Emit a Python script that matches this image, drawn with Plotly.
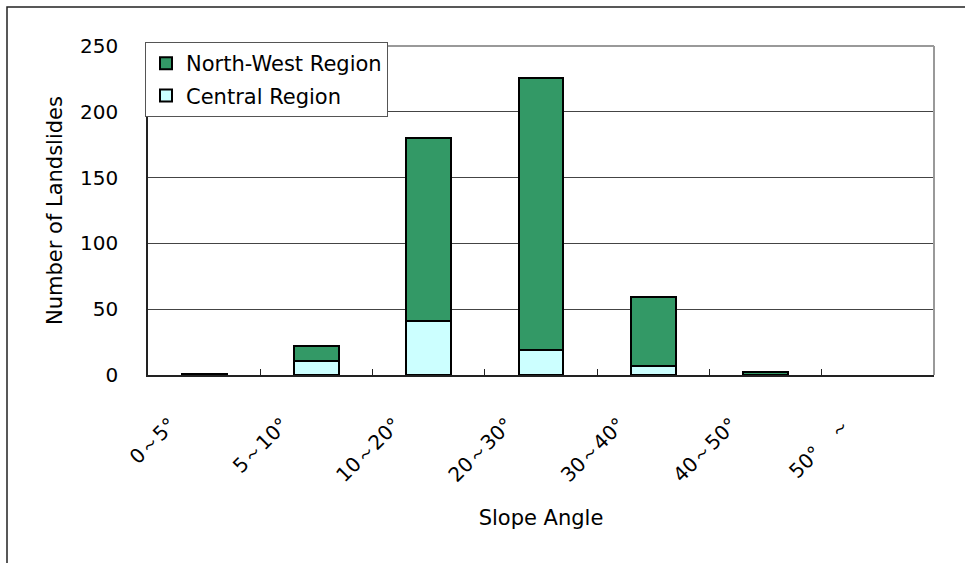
import plotly.graph_objects as go

# Landslide counts by slope-angle class (None = no landslides in that class)
categories = ["0～5°", "5～10°", "10～20°", "20～30°", "30～40°", "40～50°", "50°　～"]
central_region = [None, 11, 41, 19, 7, None, None]
north_west_region = [1, 11, 139, 207, 52, 2, None]

W, H = 965, 563
L, R, T, B = 148, 31, 46, 188
pw, ph = W - L - R, H - T - B

font_main = "DejaVu Sans"

fig = go.Figure()
fig.add_trace(go.Bar(
    x=categories, y=central_region, name="Central Region",
    legendgroup="c", legendrank=2,
    marker=dict(color="#CCFFFF", line=dict(color="black", width=2)),
))
fig.add_trace(go.Bar(
    x=categories, y=north_west_region, name="North-West Region",
    legendgroup="nw", legendrank=1,
    marker=dict(color="#339966", line=dict(color="black", width=2)),
))


def px_x(p):
    return (p - L) / pw


def px_y(p):
    return (H - B - p) / ph


# outer frame around the chart
fig.add_shape(type="rect", xref="paper", yref="paper",
              x0=px_x(7), x1=px_x(975), y0=px_y(575), y1=px_y(7),
              line=dict(color="#222", width=1.5), layer="below")
# top and right border of plot area
fig.add_shape(type="line", xref="paper", yref="paper",
              x0=0, x1=1, y0=1, y1=1, line=dict(color="#999", width=2))
fig.add_shape(type="line", xref="paper", yref="paper",
              x0=1, x1=1, y0=0, y1=1, line=dict(color="#999", width=2))

fig.update_layout(
    width=W, height=H,
    margin=dict(l=L, r=R, t=T, b=B, autoexpand=False),
    barmode="stack", bargap=0.6,
    plot_bgcolor="white", paper_bgcolor="white",
    font=dict(family=font_main, size=20, color="black"),
    legend=dict(
        x=px_x(145), y=px_y(42), xanchor="left", yanchor="top",
        traceorder="grouped", tracegroupgap=2, bgcolor="white",
        bordercolor="#555", borderwidth=1,
        font=dict(family=font_main, size=21),
    ),
    xaxis=dict(
        tickangle=-45, showline=True, linecolor="#222", linewidth=2,
        ticks="inside", ticklen=6, tickcolor="#222", tickson="boundaries",
        ticklabelstandoff=28, ticklabelshift=-34,
        title=dict(text="Slope Angle", standoff=24, font=dict(size=21)),
        tickfont=dict(size=20),
    ),
    yaxis=dict(
        range=[0, 250], dtick=50, showline=True, linecolor="#222", linewidth=1.5,
        showgrid=True, gridcolor="#444", gridwidth=1, zeroline=False,
        ticks="", ticklabelstandoff=24, tickfont=dict(size=20),
        title=dict(text="Number of Landslides", standoff=12, font=dict(size=21)),
    ),
)

fig.write_html("out.html")
